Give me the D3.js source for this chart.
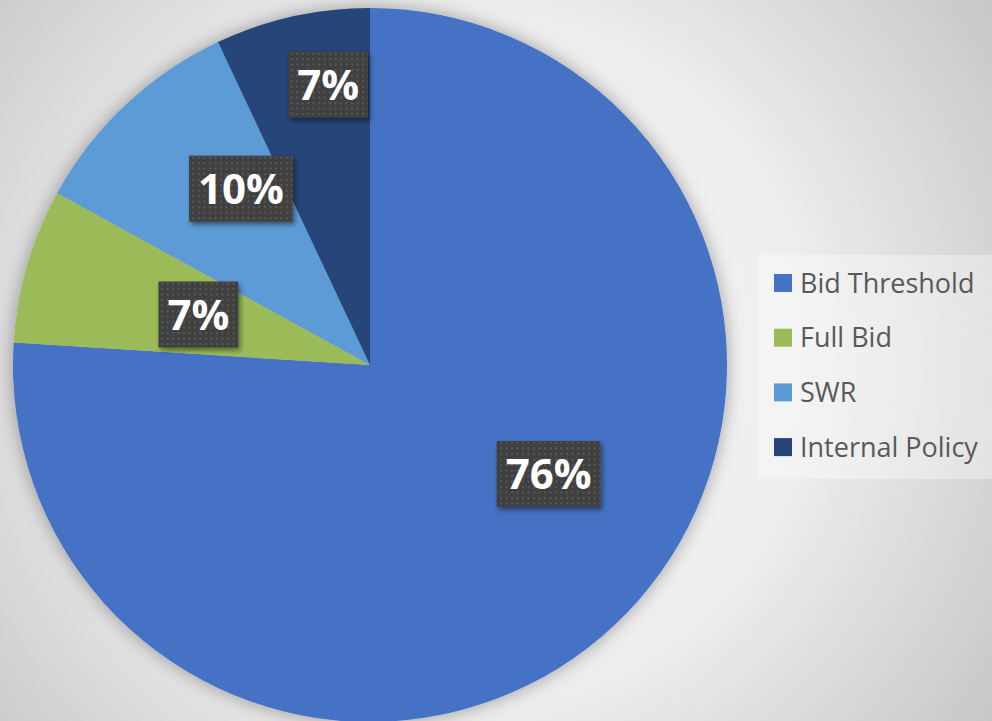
<!DOCTYPE html>
<html>
<head>
<meta charset="utf-8">
<script src="https://cdn.jsdelivr.net/npm/d3@7"></script>
<style>
  html, body { margin: 0; padding: 0; overflow: hidden; }
  svg { display: block; }
</style>
</head>
<body>
<svg id="chart" width="992" height="721"></svg>
<script>
// Share of cases by procurement reason
const categories = ["Bid Threshold", "Full Bid", "SWR", "Internal Policy"];
const values = [76, 7, 10, 7];
const colors = ["#4472C4", "#9BBB59", "#5B9BD5", "#264478"];

// Label placement: fraction of radius and angular nudge (degrees) from slice middle
const labelPlacement = [
  { r: 0.586, nudge: -15.4 },
  { r: 0.501, nudge: 0.2 },
  { r: 0.612, nudge: 7.0 },
  { r: 0.794, nudge: 4.1 }
];

const W = 992, H = 721;
const cx = 370, cy = 365, R = 357;

const svg = d3.select("#chart");
const defs = svg.append("defs");

// Background: soft radial light-gray gradient
const bg = defs.append("radialGradient")
  .attr("id", "bgGrad")
  .attr("gradientUnits", "userSpaceOnUse")
  .attr("cx", 470).attr("cy", 360).attr("r", 640);
bg.append("stop").attr("offset", "0").attr("stop-color", "#ffffff");
bg.append("stop").attr("offset", "0.55").attr("stop-color", "#ececec");
bg.append("stop").attr("offset", "1").attr("stop-color", "#c6c6c6");

svg.append("rect").attr("width", W).attr("height", H).attr("fill", "url(#bgGrad)");

// Soft glow under the pie
const glow = defs.append("filter").attr("id", "pieGlow")
  .attr("x", "-10%").attr("y", "-10%").attr("width", "120%").attr("height", "120%");
glow.append("feDropShadow")
  .attr("dx", 0).attr("dy", 0).attr("stdDeviation", 9)
  .attr("flood-color", "#000").attr("flood-opacity", 0.35);

// Shadow for label boxes
const boxShadow = defs.append("filter").attr("id", "boxShadow")
  .attr("x", "-20%").attr("y", "-20%").attr("width", "150%").attr("height", "150%");
boxShadow.append("feDropShadow")
  .attr("dx", 2).attr("dy", 3).attr("stdDeviation", 2.5)
  .attr("flood-color", "#000").attr("flood-opacity", 0.45);

// Dotted texture for label boxes
const pat = defs.append("pattern").attr("id", "dots")
  .attr("patternUnits", "userSpaceOnUse")
  .attr("width", 5.5).attr("height", 5.5);
pat.append("rect").attr("width", 5.5).attr("height", 5.5).attr("fill", "#404040");
pat.append("rect").attr("x", 1).attr("y", 1).attr("width", 2).attr("height", 2).attr("fill", "#5a5a5a");

const data = categories.map((c, i) => ({ name: c, value: values[i], color: colors[i], idx: i }));

const pie = d3.pie().value(d => d.value).sort(null);
const arc = d3.arc().innerRadius(0).outerRadius(R);
const arcs = pie(data);

const g = svg.append("g").attr("transform", `translate(${cx},${cy})`);

g.append("g").attr("filter", "url(#pieGlow)")
  .selectAll("path").data(arcs).join("path")
  .attr("d", arc)
  .attr("fill", d => d.data.color);

// Data labels
const total = d3.sum(values);
const labels = g.append("g").selectAll("g").data(arcs).join("g")
  .attr("transform", d => {
    const p = labelPlacement[d.data.idx];
    const a = (d.startAngle + d.endAngle) / 2 + p.nudge * Math.PI / 180;
    const r = p.r * R;
    return `translate(${r * Math.sin(a)},${-r * Math.cos(a)})`;
  });

labels.each(function(d) {
  const sel = d3.select(this);
  const rect = sel.append("rect").attr("fill", "url(#dots)").attr("filter", "url(#boxShadow)");
  const t = sel.append("text")
    .attr("text-anchor", "middle")
    .attr("dy", "0.36em")
    .attr("font-family", "'Open Sans', sans-serif")
    .attr("font-weight", 700)
    .attr("font-size", 42)
    .attr("fill", "#ffffff")
    .text(Math.round(d.data.value / total * 100) + "%");
  const bb = t.node().getBBox();
  const padX = 9, h = 66;
  rect.attr("x", bb.x - padX).attr("y", -h / 2)
    .attr("width", bb.width + padX * 2).attr("height", h);
});

// Legend
const legend = svg.append("g");
legend.append("rect")
  .attr("x", 758).attr("y", 255).attr("width", 240).attr("height", 224)
  .attr("fill", "#ffffff").attr("fill-opacity", 0.35);

const item = legend.selectAll("g.item").data(data).join("g")
  .attr("class", "item")
  .attr("transform", (d, i) => `translate(774,${283 + i * 54.7})`);
item.append("rect")
  .attr("x", 0).attr("y", -9).attr("width", 18).attr("height", 18)
  .attr("fill", d => d.color);
item.append("text")
  .attr("x", 26).attr("dy", "0.36em")
  .attr("font-family", "'Open Sans', sans-serif")
  .attr("font-size", 27)
  .attr("fill", "#595959")
  .text(d => d.name);
</script>
</body>
</html>
